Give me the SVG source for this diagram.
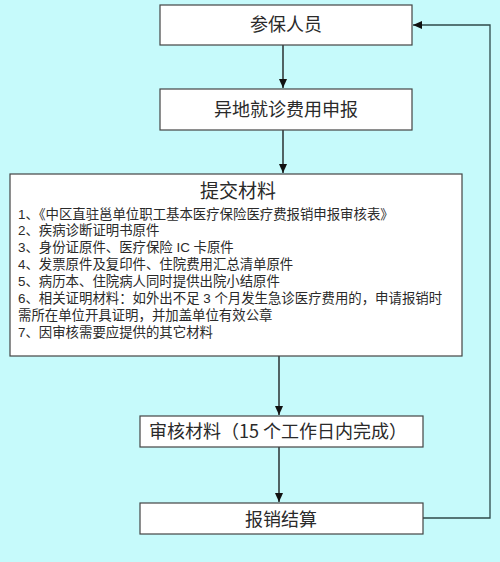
<svg xmlns="http://www.w3.org/2000/svg" width="500" height="562" viewBox="0 0 500 562">
<defs>
<marker id="ah" markerWidth="10" markerHeight="10" refX="9" refY="5" orient="auto" markerUnits="userSpaceOnUse">
<path d="M0,1 L9,5 L0,9 Z" fill="#111"/>
</marker>
<style>
.box{fill:#fff;stroke:#444;stroke-width:1.2}
.t{font-family:"Noto Sans CJK SC","Liberation Serif",sans-serif;fill:#2a2a2a}
.big{font-size:18px;text-anchor:middle}
.li{font-family:"Liberation Sans","Noto Sans CJK SC",sans-serif;font-size:13.4px}
.c{fill:none;stroke:#111;stroke-width:1.3}
</style>
</defs>
<rect width="500" height="562" fill="#c6fafb"/>
<g id="connectors">
<line class="c" x1="283" y1="45" x2="283" y2="88" marker-end="url(#ah)"/>
<line class="c" x1="283" y1="130" x2="283" y2="173" marker-end="url(#ah)"/>
<line class="c" x1="279" y1="356" x2="279" y2="415" marker-end="url(#ah)"/>
<line class="c" x1="279" y1="447" x2="279" y2="502" marker-end="url(#ah)"/>
<polyline class="c" points="423,518 490,518 490,25 413,25" style="stroke:#2f4a4a" marker-end="url(#ah)"/>
</g>
<g id="n1">
<rect class="box" x="160" y="5" width="252" height="40"/>
<text class="t big" x="286" y="31">参保人员</text>
</g>
<g id="n2">
<rect class="box" x="160" y="89" width="252" height="41"/>
<text class="t big" x="286" y="116">异地就诊费用申报</text>
</g>
<g id="n3">
<rect class="box" x="10" y="174" width="452" height="182"/>
<text class="t" x="238" y="198" style="font-size:19px;text-anchor:middle">提交材料</text>
<text class="t li" x="18" y="219">1、《中区直驻邕单位职工基本医疗保险医疗费报销申报审核表》</text>
<text class="t li" x="18" y="235">2、疾病诊断证明书原件</text>
<text class="t li" x="18" y="252">3、身份证原件、医疗保险 IC 卡原件</text>
<text class="t li" x="18" y="269">4、发票原件及复印件、住院费用汇总清单原件</text>
<text class="t li" x="18" y="286">5、病历本、住院病人同时提供出院小结原件</text>
<text class="t li" x="18" y="303">6、相关证明材料：如外出不足 3 个月发生急诊医疗费用的，申请报销时</text>
<text class="t li" x="18" y="320">需所在单位开具证明，并加盖单位有效公章</text>
<text class="t li" x="18" y="337">7、因审核需要应提供的其它材料</text>
</g>
<g id="n4">
<rect class="box" x="140" y="416" width="283" height="31"/>
<text class="t big" x="278" y="438">审核材料（15 个工作日内完成）</text>
</g>
<g id="n5">
<rect class="box" x="140" y="503" width="283" height="31"/>
<text class="t big" x="281" y="526">报销结算</text>
</g>
</svg>
